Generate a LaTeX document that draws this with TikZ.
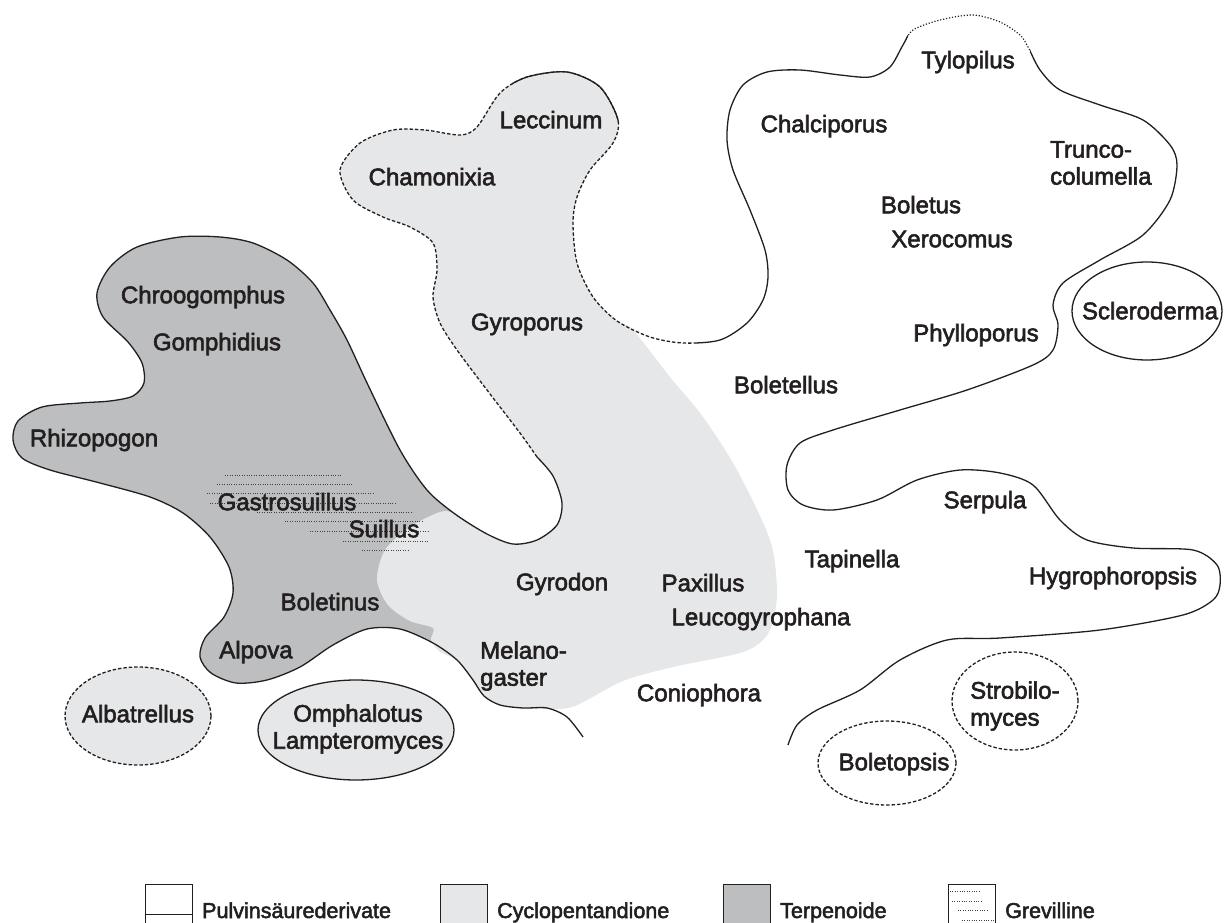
\documentclass[tikz,border=0pt]{standalone}
\usepackage{fontspec}
\setmainfont{Liberation Sans}
\newfontfamily\genusfont{Liberation Sans}[FakeBold=2.4]
\usepackage{xcolor}
\usepackage{tikz}
\usetikzlibrary{shapes.geometric,positioning}
\definecolor{cycgray}{HTML}{E6E7E8}
\definecolor{terpgray}{HTML}{BCBEC0}
\definecolor{ink}{HTML}{231F20}

% long outline: Gyroporus loop, Leccinum, Boletus group, Serpula, down to Boletopsis
\newcommand{\bcline}{plot[smooth] coordinates {(537,457) (520,433) (487,390) (457,350) (440,323) (433,297) (437,270) (433,243) (410,227) (383,217) (353,200) (340,170) (360,143) (393,130) (425,130) (460,135) (477,127) (500,93) (527,77) (567,72) (600,87) (618,120) (613,143) (590,170) (577,197) (573,223) (577,263) (593,297) (617,321) (650,337) (683,343) (720,340) (747,323) (763,300) (768,277) (765,250) (750,210) (733,170) (727,140) (730,110) (743,85) (767,72) (800,70) (840,75) (870,77) (890,67) (903,45) (913,30) (940,20) (973,15) (1000,22) (1020,35) (1028,47) (1040,70) (1060,90) (1100,105) (1143,120) (1170,145) (1177,165) (1170,200) (1143,235) (1100,260) (1063,283) (1053,305) (1058,325) (1053,350) (1033,365) (967,390) (900,410) (833,430) (800,443) (787,465) (788,490) (803,505) (833,510) (877,500) (917,480) (960,470) (1000,473) (1033,485) (1060,520) (1087,540) (1133,548) (1193,550) (1217,565) (1220,585) (1213,600) (1183,615) (1100,630) (1000,638) (947,640) (900,660) (860,690) (817,710) (797,725) (788,745)}}

\begin{document}
\begin{tikzpicture}[x=1pt, y=-1pt,
  outline/.style={line width=1.3pt, draw=ink, line join=round},
  dashline/.style={line width=1.3pt, draw=ink, dash pattern=on 3.4pt off 2pt},
  dotline/.style={line width=1.2pt, draw=ink, dash pattern=on 1.2pt off 1.8pt},
  hatch/.style={line width=0.9pt, draw=ink!85, dash pattern=on 0.9pt off 1.5pt},
  lbl/.style={font=\genusfont\fontsize{24}{27}\selectfont, text=ink, inner sep=0pt, text height=17.5pt, text depth=5pt},
  lbltwo/.style={font=\genusfont\fontsize{24}{27}\selectfont, text=ink, inner sep=0pt},
  blob/.style={ellipse, inner sep=0pt},
  keybox/.style={line width=0.8pt, draw=ink},
  keylbl/.style={font=\genusfont\fontsize{21.5}{24}\selectfont, text=ink, inner sep=0pt}]
  \useasboundingbox (0,0) rectangle (1224,923);

  % Terpenoide area
  \fill[terpgray] plot[smooth] coordinates {(455,514) (427,490) (400,450) (368,385) (347,340) (330,310) (313,283) (287,260) (253,243) (220,237) (180,237) (137,247) (110,267) (97,293) (103,317) (128,342) (142,363) (144,383) (133,396) (110,401) (80,403) (42,407) (18,421) (13,440) (22,458) (50,470) (100,483) (150,497) (183,513) (210,537) (229,567) (233,593) (224,617) (205,638) (200,657) (211,673) (236,683) (267,680) (300,667) (333,645) (367,629) (400,629) (433,643) (457,660) (473,680)} -- (470,600) -- cycle;

  % Cyclopentandione area
  \fill[cycgray] plot[smooth cycle] coordinates {(633,330) (617,321) (593,297) (577,263) (573,223) (577,197) (590,170) (613,143) (618,120) (600,87) (567,72) (527,77) (500,93) (477,127) (460,135) (425,130) (393,130) (360,143) (340,170) (353,200) (383,217) (410,227) (433,243) (437,270) (433,297) (440,323) (457,350) (487,390) (520,433) (537,457) (553,476) (562,503) (557,525) (537,540) (513,544) (487,534) (455,514) (440,512) (410,527) (385,550) (377,580) (388,605) (410,621) (433,628) (431,640) (440,652) (457,660) (473,680) (484,696) (500,705) (523,708) (550,709) (575,706) (623,681) (673,667) (740,653) (763,640) (773,622) (777,590) (770,540) (737,470) (703,417) (670,377)};

  % Grevilline
  \foreach \yy/\xa/\xb in {475/225/342, 484/217/353, 493/207/373, 503/210/397, 512/257/413, 521/285/422, 531/310/428, 541/343/428, 550/362/408}
    \draw[hatch] (\xa,\yy) -- (\xb,\yy);

  % Pulvinsaeure outline, left part
  \draw[outline] plot[smooth] coordinates {(537,457) (553,476) (562,503) (557,525) (537,540) (513,544) (487,534) (455,514) (427,490) (400,450) (368,385) (347,340) (330,310) (313,283) (287,260) (253,243) (220,237) (180,237) (137,247) (110,267) (97,293) (103,317) (128,342) (142,363) (144,383) (133,396) (110,401) (80,403) (42,407) (18,421) (13,440) (22,458) (50,470) (100,483) (150,497) (183,513) (210,537) (229,567) (233,593) (224,617) (205,638) (200,657) (211,673) (236,683) (267,680) (300,667) (333,645) (367,629) (400,629) (433,643) (457,660) (473,680) (484,696) (500,705) (523,708) (547,708) (567,717) (583,737)};

  % long outline, dashed / solid / dotted pieces
  \begin{scope}
    \clip (0,0) rectangle (695,923);
    \draw[dashline] \bcline;
  \end{scope}
  \begin{scope}
    \clip (512,55) rectangle (625,122);
    \draw[outline] \bcline;
  \end{scope}
  \begin{scope}
    \clip (695,0) -- (908,0) -- (908,52) -- (1030,52) -- (1030,0) -- (1230,0) -- (1230,923) -- (695,923) -- cycle;
    \draw[outline] \bcline;
  \end{scope}
  \begin{scope}
    \clip (908,0) rectangle (1030,52);
    \draw[dotline] \bcline;
  \end{scope}

  % single islands
  \node[blob, dashline, fill=cycgray, minimum width=146pt, minimum height=98pt] (albatrellusE) at (138,716) {};
  \node[blob, outline, fill=cycgray, minimum width=196pt, minimum height=100pt] (omphalotusE) at (356,730) {};
  \node[blob, outline, minimum width=150pt, minimum height=98pt] (sclerodermaE) at (1147,311) {};
  \node[blob, dashline, minimum width=126pt, minimum height=98pt] (strobilomycesE) at (1015,701) {};
  \node[blob, dashline, minimum width=138pt, minimum height=84pt] (boletopsisE) at (887,763) {};

  % genus names
  \node[lbl] (tylopilus) at (968,62) {Tylopilus};
  \node[lbl] (chalciporus) at (824,126) {Chalciporus};
  \node[lbltwo, align=left, anchor=west] (trunco) at (1050,163) {Trunco-\\columella};
  \node[lbl] (boletus) at (921,207) {Boletus};
  \node[lbl] (xerocomus) at (952,241) {Xerocomus};
  \node[lbl] (scleroderma) at (1150,313) {Scleroderma};
  \node[lbl] (phylloporus) at (976,335) {Phylloporus};
  \node[lbl] (boletellus) at (786,387) {Boletellus};
  \node[lbl] (serpula) at (985,502) {Serpula};
  \node[lbl] (tapinella) at (852,561) {Tapinella};
  \node[lbl] (hygrophoropsis) at (1113,578) {Hygrophoropsis};
  \node[lbltwo, align=left, anchor=west] (strobilomyces) at (970,706) {Strobilo-\\myces};
  \node[lbl] (boletopsis) at (894,764) {Boletopsis};
  \node[lbl] (paxillus) at (703,585) {Paxillus};
  \node[lbl] (leucogyrophana) at (761,619) {Leucogyrophana};
  \node[lbl] (gyrodon) at (562,584) {Gyrodon};
  \node[lbltwo, align=left, anchor=west] (melanogaster) at (480,666) {Melano-\\gaster};
  \node[lbl] (coniophora) at (699,695) {Coniophora};
  \node[lbl] (gyroporus) at (527,324) {Gyroporus};
  \node[lbl] (leccinum) at (551,122) {Leccinum};
  \node[lbl] (chamonixia) at (432,179) {Chamonixia};
  \node[lbl] (chroogomphus) at (203,297) {Chroogomphus};
  \node[lbl] (gomphidius) at (217,344) {Gomphidius};
  \node[lbl] (rhizopogon) at (94,440) {Rhizopogon};
  \node[lbl] (gastrosuillus) at (287,504) {Gastrosuillus};
  \node[lbl] (suillus) at (384,531) {Suillus};
  \node[lbl] (boletinus) at (330,604) {Boletinus};
  \node[lbl] (alpova) at (256,652) {Alpova};
  \node[lbl] (albatrellus) at (albatrellusE) {Albatrellus};
  \node[lbltwo, align=center] (omphalotus) at (358,729) {Omphalotus\\Lampteromyces};

  % Legend
  \foreach \bx/\bfill/\btext [count=\k] in {145/white/Pulvinsäurederivate, 440/cycgray/Cyclopentandione, 723/terpgray/Terpenoide, 948/white/Grevilline} {
    \draw[keybox, fill=\bfill] (\bx,884) rectangle (\bx+47,940);
    \node[keylbl, anchor=base west] (key\k) at (\bx+57,918) {\btext};
  }
  \draw[line width=0.8pt, draw=ink] (145,914) -- (192,914);
  \foreach \yy/\xa/\xb in {891/950/981, 901/952/983, 910/958/989, 920/962/995}
    \draw[hatch] (\xa,\yy) -- (\xb,\yy);
\end{tikzpicture}
\end{document}
